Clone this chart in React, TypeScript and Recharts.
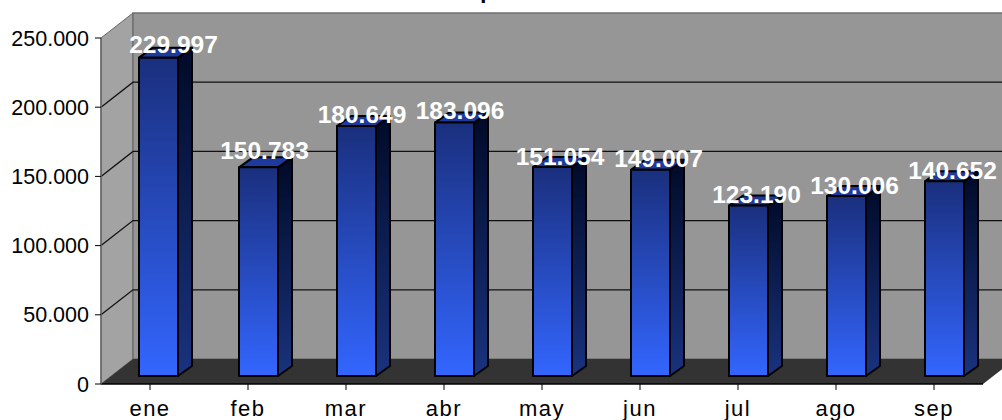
import { Bar, BarChart, CartesianGrid, LabelList, XAxis, YAxis } from "recharts";

const months = ["ene", "feb", "mar", "abr", "may", "jun", "jul", "ago", "sep"];
const values = [229997, 150783, 180649, 183096, 151054, 149007, 123190, 130006, 140652];
const yTicks = [0, 50000, 100000, 150000, 200000, 250000];
// hand placed labels, they do not sit centred on their bars
const labelNudgeX = [23, 16, 15.5, 15.5, 17.5, 18, 18, 18, 18];
const labelNudgeY = [1, -2, 3, 2, 4, 3, 3, 4, 4];

const data = months.map((month, i) => ({ month, value: values[i] }));

const WIDTH = 1002;
const HEIGHT = 420;
const LEFT = 101;
const RIGHT = 983;
const TOP = 38;
const BOTTOM = 384;
// 3d look: how far the back wall sits from the front plane
const WALL_X = 32;
const WALL_Y = 25;
// bars stand on the floor, a bit behind the front edge
const BAR_DX = 10;
const BAR_DY = 8;
const DEPTH_X = 14;
const DEPTH_Y = 10;

const fmt = (v: number) => {
  const s = String(v);
  return s.length > 3 ? s.slice(0, -3) + "." + s.slice(-3) : s;
};

// sits in its own svg under the chart, the grid would end up behind it otherwise
function Walls() {
  return (
    <svg width={WIDTH} height={HEIGHT} style={{ position: "absolute", left: 0, top: 0 }}>
      <polygon
        points={`${LEFT},${BOTTOM} ${LEFT + WALL_X},${BOTTOM - WALL_Y} ${LEFT + WALL_X},${TOP - WALL_Y} ${LEFT},${TOP}`}
        fill="#a3a3a3"
        stroke="#666666"
      />
      <rect
        x={LEFT + WALL_X}
        y={TOP - WALL_Y}
        width={WIDTH}
        height={BOTTOM - TOP}
        fill="#969696"
        stroke="#707070"
        strokeWidth={1.5}
      />
      <polygon
        points={`${LEFT},${BOTTOM} ${LEFT + WALL_X},${BOTTOM - WALL_Y} ${RIGHT + WALL_X},${BOTTOM - WALL_Y} ${RIGHT},${BOTTOM}`}
        fill="#333333"
      />
    </svg>
  );
}

function GridLine(props: any) {
  const { y1, x2 } = props;
  if (y1 >= BOTTOM - 1 || y1 <= TOP + 1) return <g />;
  return (
    <polyline
      points={`${LEFT},${y1} ${LEFT + WALL_X},${y1 - WALL_Y} ${x2 + WALL_X},${y1 - WALL_Y}`}
      fill="none"
      stroke="#111111"
      strokeWidth={1.3}
    />
  );
}

function Bar3D(props: any) {
  const { x, y, width, height, index } = props;
  // the first bar sits a little further left than the even spacing gives
  const l = x + BAR_DX - (index === 0 ? 2 : 0);
  const r = l + width;
  const t = y - BAR_DY;
  const b = t + height;
  return (
    <g stroke="#000000" strokeWidth={2} strokeLinejoin="round">
      <polygon
        points={`${r},${t} ${r + DEPTH_X},${t - DEPTH_Y} ${r + DEPTH_X},${b - DEPTH_Y} ${r},${b}`}
        fill="url(#sideFace)"
      />
      <polygon
        points={`${l},${t} ${l + DEPTH_X},${t - DEPTH_Y} ${r + DEPTH_X},${t - DEPTH_Y} ${r},${t}`}
        fill="#1d3a9c"
      />
      <rect x={l} y={t} width={width} height={height} fill="url(#frontFace)" />
    </g>
  );
}

function ValueLabel(props: any) {
  const { x, y, width, value, index } = props;
  return (
    <text
      x={x + width / 2 + labelNudgeX[index]}
      y={y - 14 + labelNudgeY[index]}
      textAnchor="middle"
      fill="#ffffff"
      fontSize={24.5}
      fontWeight={700}
    >
      {fmt(value)}
    </text>
  );
}

export default function App() {
  return (
    <div style={{ position: "absolute", left: 0, top: 0, fontFamily: "'Liberation Sans', Arial, sans-serif" }}>
      <Walls />
      <BarChart
        width={WIDTH}
        height={HEIGHT}
        data={data}
        barSize={39}
        margin={{ top: TOP, right: WIDTH - RIGHT, bottom: 0, left: 0 }}
      >
        <defs>
          <linearGradient id="frontFace" x1="0" y1="0" x2="0" y2="1">
            <stop offset="0%" stopColor="#1a2f7d" />
            <stop offset="100%" stopColor="#3366ff" />
          </linearGradient>
          <linearGradient id="sideFace" x1="0" y1="0" x2="0" y2="1">
            <stop offset="0%" stopColor="#000a28" />
            <stop offset="100%" stopColor="#1a337f" />
          </linearGradient>
        </defs>
        <CartesianGrid vertical={false} horizontal={GridLine} />
        <text x={487} y={-2} textAnchor="middle" fontSize={22} fontWeight={700} fill="#000000">
          p
        </text>
        <XAxis
          dataKey="month"
          height={HEIGHT - BOTTOM}
          axisLine={{ stroke: "#000000", strokeWidth: 1.5 }}
          tickLine={{ stroke: "#000000" }}
          tickSize={6}
          tickMargin={10}
          interval={0}
          tick={{ fill: "#000000", fontSize: 22, letterSpacing: 1.5 }}
        />
        <YAxis
          type="number"
          domain={[0, 250000]}
          ticks={yTicks}
          tickFormatter={fmt}
          width={LEFT}
          axisLine={{ stroke: "#666666", strokeWidth: 1.5 }}
          tickLine={{ stroke: "#000000" }}
          tickSize={6}
          tickMargin={6}
          tick={{ fill: "#000000", fontSize: 21.5 }}
        />
        <Bar dataKey="value" shape={Bar3D} isAnimationActive={false}>
          <LabelList dataKey="value" content={ValueLabel} />
        </Bar>
      </BarChart>
    </div>
  );
}
